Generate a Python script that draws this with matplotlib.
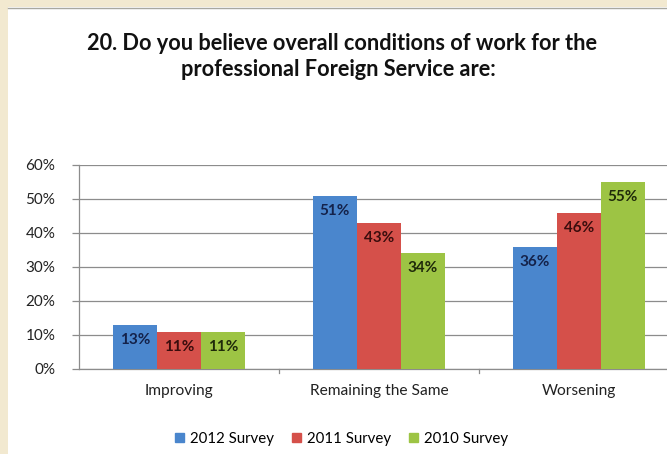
import matplotlib.pyplot as plt
import matplotlib.patches as mpatches
from matplotlib.lines import Line2D
import numpy as np

plt.rcParams['font.family'] = ['Lato', 'DejaVu Sans']

categories = ["Improving", "Remaining the Same", "Worsening"]
series_names = ["2012 Survey", "2011 Survey", "2010 Survey"]
survey_2012 = [13, 51, 36]
survey_2011 = [11, 43, 46]
survey_2010 = [11, 34, 55]
colors = ["#4a86cd", "#d5504a", "#9dc444"]
label_colors = ["#14224a", "#3a0d0d", "#1f2a0a"]

fig = plt.figure(figsize=(6.67, 4.54), dpi=100)
fig.patch.set_facecolor("white")

# beige frame on the left and top edges
beige = "#f2e9d0"
fig.add_artist(mpatches.Rectangle((0, 0), 8 / 667, 1, transform=fig.transFigure,
                                  facecolor=beige, edgecolor="none", zorder=0))
fig.add_artist(mpatches.Rectangle((0, 1 - 7 / 454), 1, 7 / 454, transform=fig.transFigure,
                                  facecolor=beige, edgecolor="none", zorder=0))
fig.add_artist(Line2D([8 / 667, 1], [1 - 7.5 / 454, 1 - 7.5 / 454], transform=fig.transFigure,
                      color="#a8a8a0", lw=1.0))

fig.text(0.513, 1 - 43 / 454, "20. Do you believe overall conditions of work for the",
         ha="center", va="center", fontsize=15.7, fontweight="bold", color="#111111")
fig.text(0.508, 1 - 70 / 454, "professional Foreign Service are:",
         ha="center", va="center", fontsize=15.7, fontweight="bold", color="#111111")

ax = fig.add_axes([79 / 667, 85 / 454, 600 / 667, 204 / 454])
x = np.arange(len(categories))
width = 0.22
all_series = [survey_2012, survey_2011, survey_2010]
for i, vals in enumerate(all_series):
    bars = ax.bar(x + (i - 1) * width, vals, width, color=colors[i], zorder=3,
                  label=series_names[i])
    for b, v in zip(bars, vals):
        ax.annotate(f"{v}%", (b.get_x() + b.get_width() / 2, v),
                    xytext=(0, -15), textcoords="offset pixels",
                    ha="center", va="center", fontsize=11, fontweight="bold",
                    color=label_colors[i], zorder=4)

ax.set_ylim(0, 60)
ax.set_xlim(-0.5, 2.5)
ax.set_yticks(range(0, 61, 10))
ax.set_yticklabels([f"{t}%" for t in range(0, 61, 10)], fontsize=11, color="#222222")
ax.yaxis.grid(True, color="#8c8c8c", lw=0.9, zorder=0)
ax.set_xticks(x)
ax.set_xticklabels(categories, fontsize=11.2, color="#222222")
ax.tick_params(axis="x", length=0, pad=11)
ax.tick_params(axis="y", length=5, color="#8c8c8c", width=0.9, pad=12)
# small separators between categories on the x axis
for sep in [0.5, 1.5]:
    ax.plot([sep, sep], [0, -1.2], color="#8c8c8c", lw=0.9, clip_on=False)
for side in ["top", "right"]:
    ax.spines[side].set_visible(False)
for side in ["left", "bottom"]:
    ax.spines[side].set_color("#8c8c8c")
    ax.spines[side].set_linewidth(0.9)

handles = [mpatches.Patch(color=c) for c in colors]
fig.legend(handles, series_names, loc="center", bbox_to_anchor=(0.512, 1 - 439 / 454),
           ncol=3, frameon=False, fontsize=10.8, handlelength=0.6, handleheight=0.6,
           handletextpad=0.4, columnspacing=1.2)

fig.savefig("out.png", dpi=100)
